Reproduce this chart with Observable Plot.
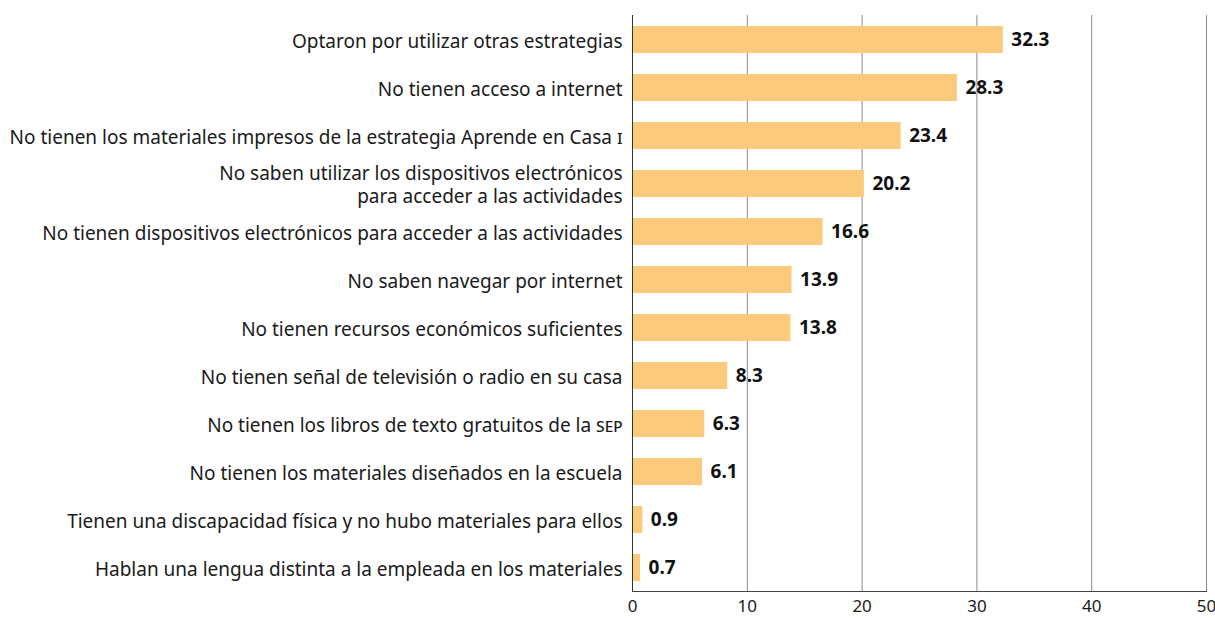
<!DOCTYPE html>
<html><head><meta charset="utf-8">
<script src="https://cdn.jsdelivr.net/npm/d3@7"></script>
<script src="https://cdn.jsdelivr.net/npm/@observablehq/plot@0.6"></script>
<style>body{margin:0;background:#fff;font-family:"Noto Sans",sans-serif;}</style>
</head><body><div id="chart"></div>
<script>
const categories = [
  "Optaron por utilizar otras estrategias",
  "No tienen acceso a internet",
  "No tienen los materiales impresos de la estrategia Aprende en Casa I",
  "No saben utilizar los dispositivos electrónicos\npara acceder a las actividades",
  "No tienen dispositivos electrónicos para acceder a las actividades",
  "No saben navegar por internet",
  "No tienen recursos económicos suficientes",
  "No tienen señal de televisión o radio en su casa",
  "No tienen los libros de texto gratuitos de la SEP",
  "No tienen los materiales diseñados en la escuela",
  "Tienen una discapacidad física y no hubo materiales para ellos",
  "Hablan una lengua distinta a la empleada en los materiales"
];
const values = [32.3, 28.3, 23.4, 20.2, 16.6, 13.9, 13.8, 8.3, 6.3, 6.1, 0.9, 0.7];
const xTicks = [0, 10, 20, 30, 40, 50];
const gridTicks = [10, 20, 30, 40, 50];

const data = categories.map((c, i) => ({category: c, value: values[i]}));

const chart = Plot.plot({
  width: 1215, height: 618,
  marginLeft: 632, marginRight: 9, marginTop: 15, marginBottom: 27,
  style: {fontFamily: "Noto Sans, sans-serif", color: "#1a1a1a", background: "#fff"},
  x: {domain: [0, 50], label: null},
  y: {domain: categories, paddingInner: 0.44, paddingOuter: 0.21, label: null},
  marks: [
    Plot.gridX(gridTicks, {stroke: "#8c8c8c", strokeOpacity: 1}),
    Plot.barX(data, {y: "category", x: "value", fill: "#FBCB7B"}),
    Plot.ruleX([0], {stroke: "#333"}),
    Plot.frame({anchor: "bottom", stroke: "#444"}),
    Plot.text(data, {x: "value", y: "category", text: d => d.value.toFixed(1), dx: 8, textAnchor: "start", fontWeight: "bold", fontSize: 19, fill: "#111"}),
    Plot.axisY({tickSize: 0, tickPadding: 10, fontSize: 19, lineHeight: 1.25, label: null}),
    Plot.axisX(xTicks, {tickSize: 0, tickPadding: 8, fontSize: 17, label: null})
  ]
});
document.getElementById("chart").append(chart);

// small caps for SEP and roman numeral I
d3.select(chart).selectAll("text").each(function() {
  const el = d3.select(this);
  if (this.childElementCount > 0) return;
  const t = this.textContent;
  let m = t.match(/^(.*de la )SEP$/);
  let m2 = t.match(/^(.*Casa )I$/);
  const mm = m || m2;
  if (mm) {
    const rest = m ? "sep" : "i";
    el.text(mm[1]);
    el.append("tspan").style("font-variant", "small-caps").text(rest);
  }
});
</script></body></html>
